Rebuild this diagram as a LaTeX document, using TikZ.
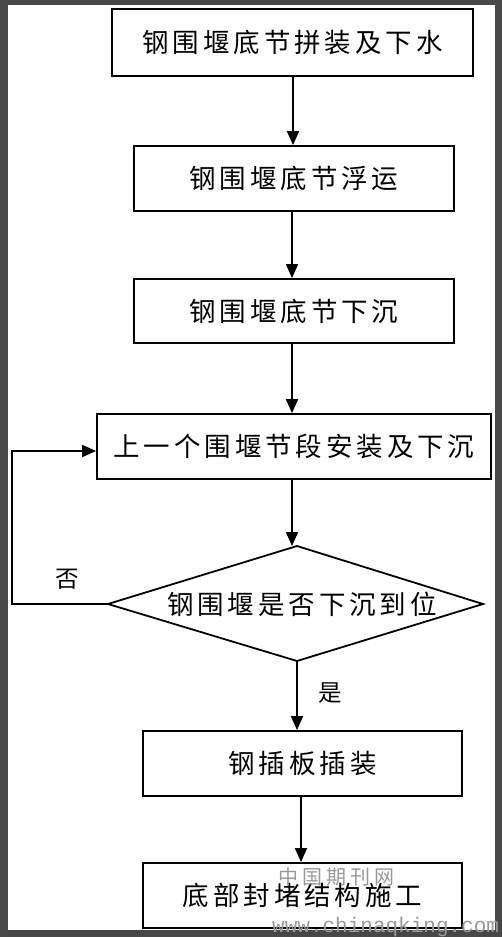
\documentclass[tikz,border=0pt]{standalone}
\usepackage{fontspec}
\newfontfamily\cjk{Noto Sans CJK SC}
\newfontfamily\wmmono{Liberation Mono}
\usetikzlibrary{arrows.meta}
\def\spcgap{3.9pt}
\def\gobbleone#1{}
\def\spcA#1#2{#1\ifx\relax#2\expandafter\gobbleone\else\kern\spcgap\expandafter\spcA\fi#2}
\newcommand\spc[1]{\spcA#1\relax}
\tikzset{
  stepbox/.style={draw=black, line width=1.8pt, fill=white, inner sep=0pt, font=\cjk\fontsize{26.5pt}{30pt}\selectfont},
  arr/.style={line width=1.8pt, -{Triangle[width=12pt,length=14pt]}},
  lbl/.style={font=\cjk\fontsize{23.5pt}{27pt}\selectfont, inner sep=0pt},
  wm/.style={text=black!40, inner sep=0pt}
}
\begin{document}
\begin{tikzpicture}[x=1pt,y=-1pt]
\fill[black!72] (0,0) rectangle (502,937);
\fill[white] (8,5) rectangle (495,930);
\useasboundingbox (0,0) rectangle (502,937);

\node[stepbox, minimum width=361pt, minimum height=67pt] (b1) at (292.5,42.5) {\spc{钢围堰底节拼装及下水}};
\node[stepbox, minimum width=320pt, minimum height=65pt] (b2) at (294,178.5) {\spc{钢围堰底节浮运}};
\node[stepbox, minimum width=320pt, minimum height=64pt] (b3) at (294,311) {\spc{钢围堰底节下沉}};
\node[stepbox, minimum width=394pt, minimum height=65pt] (b4) at (294,446.5) {\spc{上一个围堰节段安装及下沉}};

\coordinate (dt) at (297,546);
\coordinate (dl) at (108,604);
\coordinate (dr) at (483,604);
\coordinate (db) at (297,661);
\draw[line width=1.8pt, line join=miter] (dt) -- (dr) -- (db) -- (dl) -- cycle;
\node[stepbox, draw=none, fill=none] (dtext) at (302,604) {\spc{钢围堰是否下沉到位}};

\node[stepbox, minimum width=319pt, minimum height=65pt] (b5) at (302.5,763.5) {\spc{钢插板插装}};
\node[stepbox, minimum width=319pt, minimum height=65pt] (b6) at (302.5,895.5) {\spc{底部封堵结构施工}};

\coordinate (lb) at (12,604);
\coordinate (lt) at (12,451);

\draw[arr] (b1.south -| 293,0) -- (b2.north -| 293,0);
\draw[arr] (b2.south -| 292,0) -- (b3.north -| 292,0);
\draw[arr] (b3.south -| 292,0) -- (b4.north -| 292,0);
\draw[arr] (b4.south -| 292,0) -- (dt -| 292,0);
\draw[arr] (db) -- (db |- b5.north);
\draw[arr] (b5.south -| 301,0) -- (b6.north -| 301,0);
\draw[arr] (dl) -- (lb) -- (lt) -- (lt -| b4.west);

\node[lbl] (no) at (67.5,579) {否};
\node[lbl] (yes) at (330,693) {是};

\node[wm, font=\fontsize{20pt}{24pt}\selectfont\cjk] (wm1) at (336,877) {中\kern4pt 国\kern4pt 期\kern4pt 刊\kern4pt 网};
\node[wm, anchor=west, font=\wmmono\fontsize{21pt}{24pt}\selectfont] (wm2) at (272,927) {www.chinaqking.com};
\end{tikzpicture}
\end{document}
